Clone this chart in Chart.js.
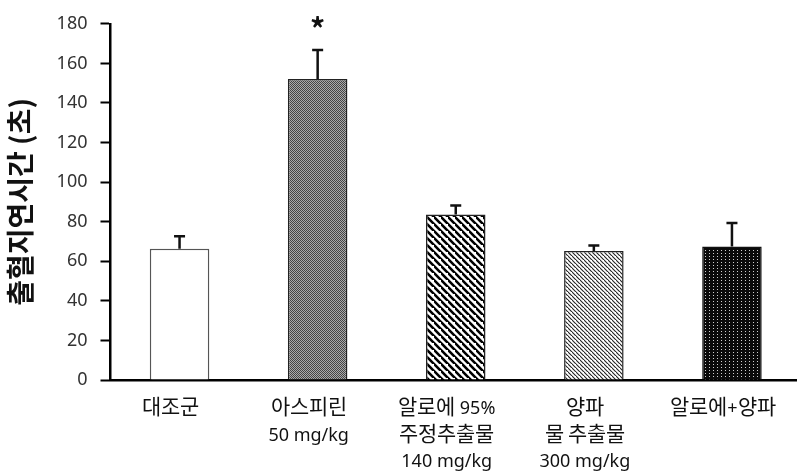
<!DOCTYPE html>
<html>
<head>
<meta charset="utf-8">
<script src="https://cdn.jsdelivr.net/npm/chart.js@4"></script>
<style>
  /* Hangul drawn a little larger than the latin digits next to it */
  @font-face {
    font-family: 'KrLabel';
    src: local('Noto Sans CJK KR'), local('Noto Sans CJK KR Regular'), local('NotoSansCJKkr-Regular');
    unicode-range: U+1100-11FF, U+3130-318F, U+AC00-D7AF;
    size-adjust: 116%;
  }
  html, body { margin: 0; padding: 0; background: #fff; }
  #wrap { width: 797px; height: 475px; overflow: hidden; }
</style>
</head>
<body>
<div id="wrap"><canvas id="myChart" width="801" height="475"></canvas></div>
<script>
const groups = [
  ['대조군'],
  ['아스피린', '50 mg/kg'],
  ['알로에 95%', '주정추출물', '140 mg/kg'],
  ['양파', '물 추출물', '300 mg/kg'],
  ['알로에+양파']
];
const meanTime = [66.3, 152.1, 83.6, 65.2, 67.5];
const stdErr = [6.4, 14.6, 4.6, 2.8, 11.8];
const marks = ['', '*', '', '', ''];
const yTicks = [0, 20, 40, 60, 80, 100, 120, 140, 160, 180];

const krFont = "'Noto Sans CJK KR', 'Noto Sans', sans-serif";
const labelFont = "'KrLabel', 'Noto Sans', 'Noto Sans CJK KR', sans-serif";

const ctx = document.getElementById('myChart');
const c2d = ctx.getContext('2d');

const plain = '#ffffff';

const checker = (() => {
  const c = document.createElement('canvas');
  c.width = 2; c.height = 2;
  const g = c.getContext('2d');
  g.fillStyle = '#aaaaaa'; g.fillRect(0, 0, 2, 2);
  g.fillStyle = '#444444'; g.fillRect(0, 0, 1, 1); g.fillRect(1, 1, 1, 1);
  return c2d.createPattern(c, 'repeat');
})();

const stripes = (size, lw, color) => {
  const c = document.createElement('canvas');
  c.width = size; c.height = size;
  const g = c.getContext('2d');
  g.fillStyle = '#fff'; g.fillRect(0, 0, size, size);
  g.strokeStyle = color; g.lineWidth = lw;
  g.beginPath();
  g.moveTo(-1, -1); g.lineTo(size + 1, size + 1);
  g.moveTo(-size - 1, -1); g.lineTo(1, size + 1);
  g.moveTo(size - 1, -size - 1); g.lineTo(2 * size + 1, size + 1);
  g.stroke();
  return c2d.createPattern(c, 'repeat');
};

const dots = (() => {
  const c = document.createElement('canvas');
  c.width = 4; c.height = 3;
  const g = c.getContext('2d');
  g.fillStyle = '#0a0a0a'; g.fillRect(0, 0, 4, 3);
  g.fillStyle = '#d0d0d0'; g.fillRect(1, 1, 1, 1);
  return c2d.createPattern(c, 'repeat');
})();

const fills = [plain, checker, stripes(7, 2.6, '#000'), stripes(4, 1.1, '#222'), dots];

// upward error bars plus significance marks
const errorBars = {
  id: 'errorBars',
  afterDatasetsDraw(chart) {
    const g = chart.ctx;
    const meta = chart.getDatasetMeta(0);
    const y = chart.scales.y;
    g.save();
    g.strokeStyle = '#111';
    g.lineWidth = 2.5;
    meta.data.forEach((bar, i) => {
      const top = y.getPixelForValue(meanTime[i] + stdErr[i]);
      g.beginPath();
      g.moveTo(bar.x, bar.y);
      g.lineTo(bar.x, top);
      g.moveTo(bar.x - 5.5, top);
      g.lineTo(bar.x + 5.5, top);
      g.stroke();
      if (marks[i]) {
        g.fillStyle = '#111';
        g.font = `bold 30px ${krFont}`;
        g.textAlign = 'center';
        g.textBaseline = 'alphabetic';
        g.fillText(marks[i], bar.x, top - 10);
      }
    });
    g.restore();
  }
};

const draw = () => new Chart(ctx, {
  type: 'bar',
  data: {
    labels: groups,
    datasets: [{
      data: meanTime,
      backgroundColor: fills,
      borderColor: ['#555', '#222', '#222', '#222', '#111'],
      borderWidth: 1.5,
      borderSkipped: 'bottom',
      barPercentage: 0.431,
      categoryPercentage: 1
    }]
  },
  options: {
    responsive: false,
    animation: false,
    layout: { padding: { top: 13, right: 0, bottom: 0, left: 0 } },
    plugins: {
      legend: { display: false },
      tooltip: { enabled: false }
    },
    scales: {
      x: {
        afterFit: (scale) => { scale.height = 95; },
        grid: { display: false, drawTicks: false },
        border: { display: true, color: '#000', width: 2.5 },
        ticks: {
          padding: 16,
          labelOffset: -9,
          color: '#111',
          maxRotation: 0,
          autoSkip: false,
          font: { family: labelFont, size: 18, lineHeight: 1.47 }
        }
      },
      y: {
        min: 0,
        max: 180,
        afterBuildTicks: (scale) => { scale.ticks = yTicks.map(v => ({ value: v })); },
        afterFit: (scale) => { scale.width = 110.5; },
        grid: { drawOnChartArea: false, drawTicks: true, tickLength: 10, tickColor: '#000', tickWidth: 2 },
        border: { display: true, color: '#000', width: 2.5 },
        ticks: {
          padding: 13,
          color: '#333',
          font: { family: "'Noto Sans', sans-serif", size: 18 }
        },
        title: {
          display: true,
          text: '출혈지연시간 (초)',
          color: '#111',
          padding: { top: 4, bottom: 0 },
          font: { family: krFont, size: 28, weight: 'bold', lineHeight: 1.2 }
        }
      }
    }
  },
  plugins: [errorBars]
});

document.fonts.load("18px 'KrLabel'", '대조군').then(draw, draw);
</script>
</body>
</html>
